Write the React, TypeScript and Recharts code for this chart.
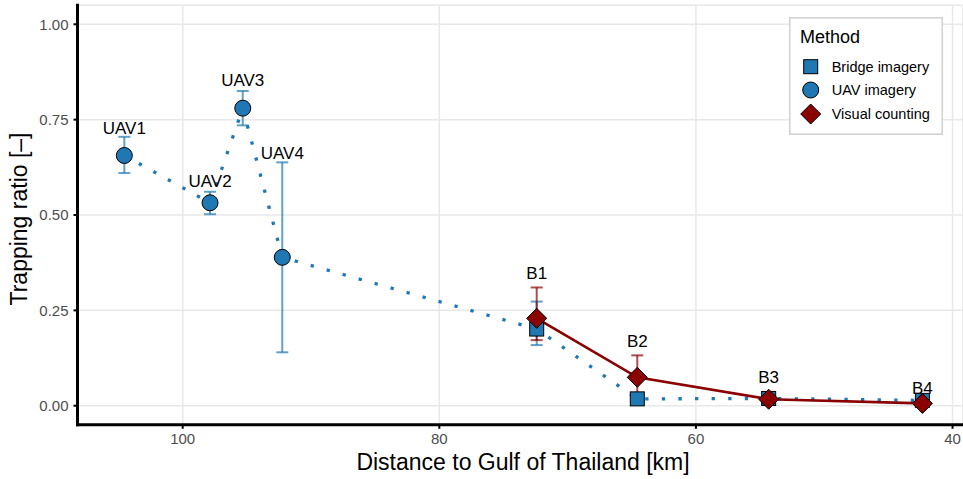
import React from 'react';
import { ComposedChart, Scatter, XAxis, YAxis, CartesianGrid, ErrorBar } from 'recharts';

// ---- Data ----
const uavLabels = ['UAV1', 'UAV2', 'UAV3', 'UAV4'];
const uavDistance = [104.55, 97.87, 95.32, 92.24];
const uavRatio = [0.656, 0.532, 0.78, 0.389];
const uavLow = [0.61, 0.502, 0.735, 0.14];
const uavHigh = [0.705, 0.561, 0.825, 0.638];
const uavLabelY = [0.729, 0.589, 0.853, 0.663];

const bridgeLabels = ['B1', 'B2', 'B3', 'B4'];
const bridgeDistance = [72.41, 64.57, 54.33, 42.35];
const bridgeRatio = [0.201, 0.018, 0.019, 0.014];
const bridgeLow = [0.159, 0.012, 0.012, 0.008];
const bridgeHigh = [0.273, 0.024, 0.026, 0.02];
const bridgeLabelY = [0.348, 0.17, 0.076, 0.046];

const visualRatio = [0.229, 0.0745, 0.017, 0.006];
const visualLow = [0.172, 0.02, 0.01, 0.002];
const visualHigh = [0.31, 0.132, 0.035, 0.012];

const xTicks = [100, 80, 60, 40];
const yTicks = [0, 0.25, 0.5, 0.75, 1];

const legendTitle = 'Method';
const legendItems = ['Bridge imagery', 'UAV imagery', 'Visual counting'];

// ---- Derived tables ----
const uavData = uavDistance.map((x, i) => ({ x, y: uavRatio[i], err: [uavRatio[i] - uavLow[i], uavHigh[i] - uavRatio[i]] }));
const bridgeData = bridgeDistance.map((x, i) => ({ x, y: bridgeRatio[i], err: [bridgeRatio[i] - bridgeLow[i], bridgeHigh[i] - bridgeRatio[i]] }));
const visualData = bridgeDistance.map((x, i) => ({ x, y: visualRatio[i], err: [visualRatio[i] - visualLow[i], visualHigh[i] - visualRatio[i]] }));
const blueLineData = [...uavData, ...bridgeData];
const labelData = [
  ...uavDistance.map((x, i) => ({ x, y: uavLabelY[i], label: uavLabels[i] })),
  ...bridgeDistance.map((x, i) => ({ x, y: bridgeLabelY[i], label: bridgeLabels[i] })),
];

const BLUE = '#1f77b4';
const RED = '#8b0000';
const FONT = '"Liberation Sans", Arial, Helvetica, sans-serif';

const Empty = () => <g />;
const Square = (p: any) => <rect x={p.cx - 7} y={p.cy - 7} width={14} height={14} fill={BLUE} stroke="#000" strokeWidth={1} />;
const Dot = (p: any) => <circle cx={p.cx} cy={p.cy} r={8} fill={BLUE} stroke="#000" strokeWidth={1} />;
const Diamond = (p: any) => (
  <polygon
    points={`${p.cx},${p.cy - 10} ${p.cx + 10},${p.cy} ${p.cx},${p.cy + 10} ${p.cx - 10},${p.cy}`}
    fill={RED}
    stroke="#000"
    strokeWidth={1}
  />
);
const LabelText = (p: any) => (
  <text x={p.cx} y={p.cy} dy="0.35em" textAnchor="middle" fontSize={17} fill="#000" fontFamily={FONT}>
    {p.payload.label}
  </text>
);

const XTitle = () => (
  <text x={523} y={470} textAnchor="middle" fontSize={23} fill="#000" fontFamily={FONT}>
    Distance to Gulf of Thailand [km]
  </text>
);
const YTitle = () => (
  <text transform="translate(27,219) rotate(-90)" textAnchor="middle" fontSize={23} fill="#000" fontFamily={FONT}>
    Trapping ratio [–]
  </text>
);

const Legend = () => (
  <svg width={154} height={118} style={{ position: 'absolute', left: 789, top: 17 }}>
    <rect x={0.75} y={0.75} width={152.5} height={116.5} fill="#fff" stroke="#d0d0d0" strokeWidth={1.5} />
    <text x={11} y={26} fontSize={18} fill="#000" fontFamily={FONT}>{legendTitle}</text>
    <rect x={14.7} y={42.7} width={14} height={14} fill={BLUE} stroke="#000" strokeWidth={1} />
    <circle cx={21.7} cy={73} r={8} fill={BLUE} stroke="#000" strokeWidth={1} />
    <polygon points="21.7,87 31.7,97 21.7,107 11.7,97" fill={RED} stroke="#000" strokeWidth={1} />
    {legendItems.map((t, i) => (
      <text key={t} x={42.7} y={[49.7, 73, 97][i] + 5} fontSize={14.5} fill="#000" fontFamily={FONT}>{t}</text>
    ))}
  </svg>
);

export default function App() {
  return (
    <div style={{ position: 'absolute', left: 0, top: 0, width: 963, height: 479, background: '#fff', fontFamily: FONT }}>
      <ComposedChart width={963} height={479} margin={{ top: 5.2, right: 0.2, bottom: 0, left: 0 }}>
        <CartesianGrid stroke="#e8e8e8" strokeWidth={1.5} />
        <XAxis
          type="number"
          dataKey="x"
          domain={[39.2, 108.2]}
          reversed
          allowDataOverflow
          ticks={xTicks}
          height={54.2}
          tickSize={4}
          tickMargin={5}
          axisLine={{ stroke: '#000', strokeWidth: 3, strokeLinecap: 'square' }}
          tickLine={{ stroke: '#000', strokeWidth: 2 }}
          tick={{ fill: '#4d4d4d', fontSize: 15, fontFamily: FONT }}
          label={<XTitle />}
        />
        <YAxis
          type="number"
          dataKey="y"
          domain={[-0.05, 1.05]}
          allowDataOverflow
          ticks={yTicks}
          width={77.5}
          tickSize={4}
          tickMargin={5}
          tickFormatter={(v: number) => v.toFixed(2)}
          axisLine={{ stroke: '#000', strokeWidth: 3, strokeLinecap: 'square' }}
          tickLine={{ stroke: '#000', strokeWidth: 2 }}
          tick={{ fill: '#4d4d4d', fontSize: 15, fontFamily: FONT }}
          label={<YTitle />}
        />
        <Scatter
          data={blueLineData}
          dataKey="y"
          shape={Empty}
          isAnimationActive={false}
          line={{ stroke: BLUE, strokeWidth: 3.3, strokeDasharray: '3.3 13.3', fill: 'none' }}
          lineType="joint"
        />
        <Scatter
          data={visualData}
          dataKey="y"
          shape={Empty}
          isAnimationActive={false}
          line={{ stroke: RED, strokeWidth: 2.7, fill: 'none' }}
          lineType="joint"
        />
        <Scatter data={uavData} dataKey="y" shape={Empty} isAnimationActive={false}>
          <ErrorBar dataKey="err" direction="y" width={6} stroke={BLUE} strokeOpacity={0.7} strokeWidth={2} />
        </Scatter>
        <Scatter data={bridgeData} dataKey="y" shape={Empty} isAnimationActive={false}>
          <ErrorBar dataKey="err" direction="y" width={6} stroke={BLUE} strokeOpacity={0.7} strokeWidth={2} />
        </Scatter>
        <Scatter data={visualData} dataKey="y" shape={Empty} isAnimationActive={false}>
          <ErrorBar dataKey="err" direction="y" width={6} stroke={RED} strokeOpacity={0.7} strokeWidth={2} />
        </Scatter>
        <Scatter data={bridgeData} dataKey="y" shape={Square} isAnimationActive={false} />
        <Scatter data={uavData} dataKey="y" shape={Dot} isAnimationActive={false} />
        <Scatter data={visualData} dataKey="y" shape={Diamond} isAnimationActive={false} />
        <Scatter data={labelData} dataKey="y" shape={LabelText} isAnimationActive={false} />
      </ComposedChart>
      <Legend />
    </div>
  );
}
